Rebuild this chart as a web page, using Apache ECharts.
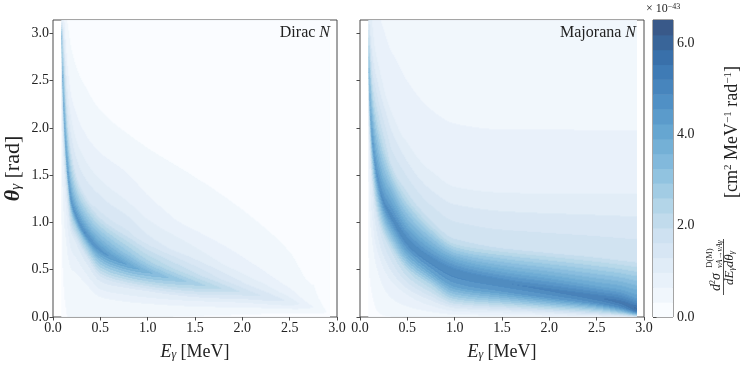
<!DOCTYPE html>
<html>
<head>
<meta charset="utf-8">
<title>Dirac / Majorana photon spectrum</title>
<script src="https://cdn.jsdelivr.net/npm/echarts@6/dist/echarts.min.js"></script>
<style>
  html, body { margin: 0; padding: 0; background: #fff; }
  #main { width: 748px; height: 366px; }
</style>
</head>
<body>
<div id="main"></div>
<script>
var eSamples = [0.088, 0.095, 0.105, 0.12, 0.14, 0.16, 0.19, 0.25, 0.34, 0.5, 0.75, 1.0, 1.5, 2.0, 2.5, 2.75, 2.92];

// Dirac: theta knots (rad) per energy, knot 4 is the ridge
var diracTheta = [
  [0, 1.0, 2.0, 2.8, 3.08, 3.11, 3.12, 3.13, 3.135, 3.1416],
  [0, 1.0, 2.0, 2.6, 2.92, 3.0, 3.08, 3.12, 3.13, 3.1416],
  [0, 1.0, 1.8, 2.25, 2.5, 2.7, 2.9, 3.05, 3.1, 3.1416],
  [0, 0.8, 1.5, 1.9, 2.12, 2.35, 2.65, 2.95, 3.1, 3.1416],
  [0, 0.7, 1.3, 1.58, 1.75, 1.97, 2.3, 2.7, 3.0, 3.1416],
  [0, 0.6, 1.1, 1.36, 1.5, 1.72, 2.05, 2.5, 3.0, 3.1416],
  [0, 0.5, 0.9, 1.12, 1.25, 1.45, 1.8, 2.3, 2.85, 3.1416],
  [0, 0.45, 0.8, 0.96, 1.06, 1.22, 1.5, 2.0, 2.62, 3.1416],
  [0, 0.35, 0.65, 0.8, 0.89, 1.03, 1.3, 1.8, 2.42, 3.1416],
  [0, 0.2, 0.42, 0.59, 0.71, 0.84, 1.08, 1.55, 2.16, 3.1416],
  [0, 0.15, 0.33, 0.47, 0.57, 0.69, 0.91, 1.32, 1.94, 3.1416],
  [0, 0.12, 0.28, 0.4, 0.48, 0.59, 0.8, 1.15, 1.76, 3.1416],
  [0, 0.08, 0.2, 0.3, 0.36, 0.46, 0.65, 0.95, 1.45, 3.1416],
  [0, 0.06, 0.15, 0.22, 0.27, 0.36, 0.5, 0.75, 1.1, 3.1416],
  [0, 0.04, 0.09, 0.13, 0.17, 0.24, 0.33, 0.45, 0.65, 3.1416],
  [0, 0.03, 0.06, 0.09, 0.11, 0.15, 0.2, 0.25, 0.3, 3.1416],
  [0, 0.01, 0.02, 0.03, 0.05, 0.1, 0.2, 0.4, 0.8, 3.1416]
];
// Dirac: cross section at those knots (x1e-43)
var diracValue = [
  [0.1, 0.25, 0.5, 1.0, 2.0, 1.8, 1.5, 1.2, 1.0, 0.9],
  [0.15, 0.35, 0.7, 1.8, 4.0, 3.0, 2.0, 1.4, 1.1, 1.0],
  [0.2, 0.45, 0.9, 2.2, 4.3, 3.0, 2.0, 1.3, 1.0, 0.9],
  [0.25, 0.5, 1.0, 2.3, 4.4, 3.0, 1.9, 1.1, 0.8, 0.7],
  [0.3, 0.55, 1.1, 2.4, 4.5, 3.1, 1.7, 0.85, 0.5, 0.4],
  [0.34, 0.6, 1.2, 2.5, 4.6, 3.2, 1.6, 0.75, 0.36, 0.3],
  [0.35, 0.62, 1.25, 2.7, 4.7, 3.3, 1.55, 0.7, 0.33, 0.25],
  [0.35, 0.62, 1.35, 2.9, 4.8, 3.4, 1.6, 0.75, 0.33, 0.22],
  [0.35, 0.62, 1.45, 3.1, 4.9, 3.5, 1.6, 0.75, 0.33, 0.2],
  [0.35, 0.58, 1.45, 3.2, 4.7, 3.5, 1.7, 0.8, 0.33, 0.18],
  [0.34, 0.56, 1.35, 3.0, 4.3, 3.2, 1.7, 0.85, 0.33, 0.15],
  [0.33, 0.52, 1.3, 2.8, 3.7, 2.7, 1.45, 0.75, 0.33, 0.12],
  [0.3, 0.46, 1.1, 2.2, 2.8, 2.0, 1.15, 0.6, 0.33, 0.1],
  [0.25, 0.4, 0.9, 1.5, 1.9, 1.35, 0.85, 0.5, 0.33, 0.08],
  [0.18, 0.3, 0.65, 1.0, 1.2, 0.85, 0.6, 0.42, 0.33, 0.05],
  [0.12, 0.22, 0.42, 0.58, 0.65, 0.5, 0.4, 0.35, 0.33, 0.03],
  [0.1, 0.15, 0.2, 0.22, 0.25, 0.2, 0.15, 0.1, 0.05, 0.02]
];

// Majorana: theta knots (rad) per energy
var majoranaTheta = [
  [0, 1.0, 2.0, 2.9, 3.1, 3.12, 3.13, 3.135, 3.14, 3.1416],
  [0, 1.0, 1.8, 2.25, 2.5, 2.8, 3.0, 3.1, 3.13, 3.1416],
  [0, 0.9, 1.7, 2.05, 2.3, 2.6, 2.85, 3.05, 3.12, 3.1416],
  [0, 0.8, 1.5, 1.8, 2.0, 2.3, 2.6, 2.9, 3.1, 3.1416],
  [0, 0.7, 1.3, 1.6, 1.8, 2.1, 2.4, 2.8, 3.05, 3.1416],
  [0, 0.6, 1.15, 1.43, 1.63, 1.93, 2.25, 2.7, 3.0, 3.1416],
  [0, 0.55, 1.0, 1.26, 1.45, 1.75, 2.1, 2.6, 3.0, 3.1416],
  [0, 0.45, 0.85, 1.05, 1.22, 1.5, 1.85, 2.4, 2.9, 3.1416],
  [0, 0.35, 0.7, 0.88, 1.05, 1.3, 1.6, 2.2, 2.8, 3.1416],
  [0, 0.25, 0.5, 0.65, 0.8, 1.0, 1.3, 1.8, 2.5, 3.1416],
  [0, 0.17, 0.35, 0.48, 0.6, 0.76, 1.0, 1.5, 2.2, 3.1416],
  [0, 0.11, 0.22, 0.34, 0.48, 0.62, 0.8, 1.38, 2.05, 3.1416],
  [0, 0.08, 0.17, 0.27, 0.37, 0.5, 0.73, 1.32, 1.99, 3.1416],
  [0, 0.06, 0.13, 0.21, 0.29, 0.42, 0.68, 1.31, 1.99, 3.1416],
  [0, 0.04, 0.1, 0.15, 0.21, 0.33, 0.63, 1.31, 1.98, 3.1416],
  [0, 0.03, 0.07, 0.11, 0.16, 0.28, 0.6, 1.31, 1.98, 3.1416],
  [0, 0.02, 0.04, 0.06, 0.09, 0.2, 0.58, 1.31, 1.98, 3.1416]
];
// Majorana: cross section at those knots (x1e-43)
var majoranaValue = [
  [0.12, 0.35, 0.7, 1.3, 1.8, 1.7, 1.6, 1.5, 1.4, 1.4],
  [0.15, 0.45, 0.9, 2.2, 3.6, 2.8, 2.0, 1.6, 1.4, 1.3],
  [0.18, 0.5, 1.1, 2.5, 4.1, 3.0, 2.0, 1.4, 1.2, 1.1],
  [0.2, 0.55, 1.3, 2.8, 4.4, 3.2, 2.0, 1.3, 1.1, 1.05],
  [0.22, 0.6, 1.4, 3.0, 4.6, 3.3, 2.0, 1.15, 0.95, 0.9],
  [0.25, 0.65, 1.5, 3.1, 4.7, 3.4, 2.1, 1.1, 0.85, 0.8],
  [0.28, 0.7, 1.6, 3.2, 4.8, 3.5, 2.1, 1.05, 0.75, 0.7],
  [0.3, 0.8, 1.8, 3.4, 5.0, 3.6, 2.1, 1.0, 0.7, 0.62],
  [0.32, 0.9, 2.0, 3.6, 5.1, 3.7, 1.9, 0.9, 0.65, 0.55],
  [0.35, 1.0, 2.3, 3.8, 5.2, 3.8, 2.0, 1.0, 0.65, 0.48],
  [0.35, 1.2, 2.6, 4.2, 5.2, 3.9, 2.0, 1.0, 0.65, 0.45],
  [0.35, 1.4, 2.9, 4.4, 5.2, 3.9, 2.0, 0.975, 0.65, 0.43],
  [0.35, 1.4, 2.9, 4.5, 5.2, 4.0, 1.95, 0.975, 0.65, 0.42],
  [0.38, 1.5, 3.0, 4.6, 5.3, 4.1, 1.95, 0.975, 0.65, 0.42],
  [0.45, 1.7, 3.3, 4.8, 5.5, 4.2, 1.95, 0.975, 0.65, 0.42],
  [0.6, 2.0, 3.6, 5.0, 5.7, 4.3, 1.95, 0.975, 0.65, 0.42],
  [1.0, 2.5, 4.0, 5.3, 5.9, 4.5, 1.95, 0.975, 0.65, 0.42]
];

var xTicks = [0, 0.5, 1.0, 1.5, 2.0, 2.5, 3.0];
var yTicks = [0, 0.5, 1.0, 1.5, 2.0, 2.5, 3.0];
var cbTicks = [0, 2, 4, 6];
var levelStep = 0.325;   // 20 filled levels up to 6.5
var nLevels = 20;

var serif = 'Liberation Serif';
var ink = '#222';
var frame = '#4a4a4a';

// matplotlib "Blues" anchors, drawn with alpha 0.8 on white
var blues = [[247,251,255],[222,235,247],[198,219,239],[158,202,225],[107,174,214],[66,146,198],[33,113,181],[8,81,156],[8,48,107]];
var colors = [];
for (var i = 0; i < nLevels; i++) {
  var t = i / (nLevels - 1) * 8, k = Math.min(7, Math.floor(t)), f = t - k;
  var c = [0, 1, 2].map(function (j) {
    return Math.round((blues[k][j] + (blues[k + 1][j] - blues[k][j]) * f) * 0.8 + 255 * 0.2);
  });
  colors.push('rgb(' + c.join(',') + ')');
}

// monotone cubic through the energy samples, so contours bend smoothly
function pchip(xs, ys, x) {
  var n = xs.length, j = 0;
  while (j < n - 2 && x > xs[j + 1]) j++;
  var h = xs[j + 1] - xs[j], t = Math.max(0, Math.min(1, (x - xs[j]) / h));
  function slope(i) {
    if (i === 0) return (ys[1] - ys[0]) / (xs[1] - xs[0]);
    if (i === n - 1) return (ys[n - 1] - ys[n - 2]) / (xs[n - 1] - xs[n - 2]);
    var d0 = (ys[i] - ys[i - 1]) / (xs[i] - xs[i - 1]), d1 = (ys[i + 1] - ys[i]) / (xs[i + 1] - xs[i]);
    if (d0 * d1 <= 0) return 0;
    var w0 = 2 * (xs[i + 1] - xs[i]) + (xs[i] - xs[i - 1]);
    var w1 = (xs[i + 1] - xs[i]) + 2 * (xs[i] - xs[i - 1]);
    return (w0 + w1) / (w0 / d0 + w1 / d1);
  }
  var m0 = slope(j) * h, m1 = slope(j + 1) * h, t2 = t * t, t3 = t2 * t;
  return (2 * t3 - 3 * t2 + 1) * ys[j] + (t3 - 2 * t2 + t) * m0 + (-2 * t3 + 3 * t2) * ys[j + 1] + (t3 - t2) * m1;
}

function profileAt(ts, vs, th) {
  if (th <= ts[0]) return vs[0];
  for (var k = 1; k < ts.length; k++) {
    if (th <= ts[k]) {
      var span = ts[k] - ts[k - 1];
      return span > 0 ? vs[k - 1] + (vs[k] - vs[k - 1]) * (th - ts[k - 1]) / span : vs[k];
    }
  }
  return vs[vs.length - 1];
}

function column(rows, k) {
  return rows.map(function (r) { return r[k]; });
}

// turn the read-off profiles into filled-contour strips [e0, e1, th0, th1, level]
function buildCells(thetaRows, valueRows) {
  var cells = [];
  var dE = 3 / 284, nRow = 300, dT = Math.PI / nRow;
  var eStart = eSamples[0], eEnd = eSamples[eSamples.length - 1];
  var nK = thetaRows[0].length, thCols = [], vCols = [];
  for (var k = 0; k < nK; k++) {
    thCols.push(column(thetaRows, k));
    vCols.push(column(valueRows, k));
  }
  for (var e0 = eStart; e0 < eEnd - 1e-9; e0 += dE) {
    var e1 = Math.min(e0 + dE, eEnd), em = (e0 + e1) / 2;
    var ts = [], vs = [];
    for (var k = 0; k < nK; k++) {
      ts.push(pchip(eSamples, thCols[k], em));
      vs.push(Math.max(0, pchip(eSamples, vCols[k], em)));
    }
    var runStart = 0, runLevel = -1;
    for (var r = 0; r <= nRow; r++) {
      var lvl = -2;
      if (r < nRow) {
        var v = profileAt(ts, vs, (r + 0.5) * dT);
        lvl = Math.max(0, Math.min(nLevels - 1, Math.floor(v / levelStep)));
      }
      if (lvl !== runLevel) {
        if (runLevel >= 0) cells.push([e0, e1, runStart * dT, r * dT, runLevel]);
        runStart = r;
        runLevel = lvl;
      }
    }
  }
  return cells;
}

var cbData = [];
for (var i = 0; i < nLevels; i++) cbData.push([0, 1, i * levelStep, (i + 1) * levelStep, i]);

function renderBand(params, api) {
  var a = api.coord([api.value(0), api.value(3)]);
  var b = api.coord([api.value(1), api.value(2)]);
  return {
    type: 'rect',
    shape: { x: a[0], y: a[1], width: b[0] - a[0] + 0.5, height: b[1] - a[1] + 0.5 },
    style: { fill: colors[api.value(4)] }
  };
}

function nameRich(size) {
  var sub = Math.round(size * 0.68);
  return {
    i: { fontFamily: serif, fontStyle: 'italic', fontSize: size, color: ink, lineHeight: size + 5, verticalAlign: 'bottom' },
    b: { fontFamily: serif, fontStyle: 'italic', fontWeight: 'bold', fontSize: size, color: ink, lineHeight: size + 5, verticalAlign: 'bottom' },
    s: { fontFamily: serif, fontStyle: 'italic', fontSize: sub, color: ink, lineHeight: sub + 2, verticalAlign: 'bottom' },
    n: { fontFamily: serif, fontSize: size, color: ink, lineHeight: size + 5, verticalAlign: 'bottom' }
  };
}

function xAxisFor(gi) {
  return {
    gridIndex: gi, type: 'value', min: 0, max: 3, interval: 0.5,
    name: '{i|E}{s|γ}{n| [MeV]}', nameLocation: 'middle', nameGap: 21,
    nameTextStyle: { rich: nameRich(18) },
    axisLine: { show: false },
    axisTick: { length: 3.5, lineStyle: { color: frame }, customValues: xTicks },
    axisLabel: { fontFamily: serif, fontSize: 14, color: ink, margin: 4, customValues: xTicks,
      formatter: function (v) { return v.toFixed(1); } },
    splitLine: { show: false }
  };
}

function yAxisFor(gi, labels) {
  return {
    gridIndex: gi, type: 'value', min: 0, max: Math.PI,
    name: labels ? '{b|θ}{s|γ}{n| [rad]}' : '', nameLocation: 'middle', nameGap: 29, nameRotate: 90,
    nameTextStyle: { rich: nameRich(22) },
    axisLine: { show: false },
    axisTick: { length: 3.5, lineStyle: { color: frame }, customValues: yTicks },
    axisLabel: { show: labels, fontFamily: serif, fontSize: 14, color: ink, margin: 4, customValues: yTicks,
      formatter: function (v) { return v.toFixed(1); } },
    splitLine: { show: false }
  };
}

var chart = echarts.init(document.getElementById('main'), null, { renderer: 'canvas' });

var supRich = function (size) {
  return { sup: { fontFamily: serif, fontSize: size, fill: ink, verticalAlign: 'top', lineHeight: size + 1 } };
};

var option = {
  animation: false,
  backgroundColor: '#fff',
  grid: [
    { left: 53, top: 20, width: 284, height: 297, show: true, borderColor: frame, borderWidth: 1, backgroundColor: '#fff' },
    { left: 360, top: 20, width: 284, height: 297, show: true, borderColor: frame, borderWidth: 1, backgroundColor: '#fff' },
    { left: 653, top: 20, width: 20, height: 297, show: true, borderColor: frame, borderWidth: 1 }
  ],
  xAxis: [
    xAxisFor(0),
    xAxisFor(1),
    { gridIndex: 2, type: 'value', min: 0, max: 1, show: false }
  ],
  yAxis: [
    yAxisFor(0, true),
    yAxisFor(1, false),
    {
      gridIndex: 2, type: 'value', min: 0, max: 6.5, position: 'right',
      axisLine: { show: false },
      axisTick: { length: 3.5, lineStyle: { color: frame }, customValues: cbTicks },
      axisLabel: { fontFamily: serif, fontSize: 14, color: ink, margin: 4, customValues: cbTicks,
        formatter: function (v) { return v.toFixed(1); } },
      splitLine: { show: false }
    }
  ],
  series: [
    { type: 'custom', name: 'Dirac', xAxisIndex: 0, yAxisIndex: 0, clip: true, silent: true, progressive: 0,
      encode: { x: [0, 1], y: [2, 3] }, renderItem: renderBand, data: buildCells(diracTheta, diracValue) },
    { type: 'custom', name: 'Majorana', xAxisIndex: 1, yAxisIndex: 1, clip: true, silent: true, progressive: 0,
      encode: { x: [0, 1], y: [2, 3] }, renderItem: renderBand, data: buildCells(majoranaTheta, majoranaValue) },
    { type: 'custom', name: 'colorbar', xAxisIndex: 2, yAxisIndex: 2, clip: true, silent: true,
      encode: { x: [0, 1], y: [2, 3] }, renderItem: renderBand, data: cbData }
  ],
  graphic: [
    { type: 'text', right: 748 - 330, top: 25, z: 10,
      style: { text: 'Dirac {i|N}', fontFamily: serif, fontSize: 16, fill: ink,
        rich: { i: { fontFamily: serif, fontStyle: 'italic', fontSize: 16, fill: ink } } } },
    { type: 'text', right: 748 - 636, top: 25, z: 10,
      style: { text: 'Majorana {i|N}', fontFamily: serif, fontSize: 16, fill: ink,
        rich: { i: { fontFamily: serif, fontStyle: 'italic', fontSize: 16, fill: ink } } } },
    { type: 'text', left: 646, top: 3,
      style: { text: '× 10{sup|−43}', fontFamily: serif, fontSize: 12, fill: ink, rich: supRich(8) } },
    // colour bar label, rotated to read bottom-up
    { type: 'text', x: 732, y: 132, rotation: Math.PI / 2,
      style: { text: '[cm{sup|2} MeV{sup|−1} rad{sup|−1}]', fontFamily: serif, fontSize: 18, fill: ink,
        align: 'center', verticalAlign: 'middle', rich: supRich(11) } },
    { type: 'text', x: 716, y: 282, rotation: Math.PI / 2,
      style: { text: 'd{sup|2}σ', fontFamily: serif, fontStyle: 'italic', fontSize: 14, fill: ink,
        align: 'center', verticalAlign: 'middle', rich: supRich(8) } },
    { type: 'text', x: 710, y: 258, rotation: Math.PI / 2,
      style: { text: 'D(M)', fontFamily: serif, fontSize: 8.5, fill: ink, align: 'center', verticalAlign: 'middle' } },
    { type: 'text', x: 720, y: 254, rotation: Math.PI / 2,
      style: { text: 'νA→νAγ', fontFamily: serif, fontStyle: 'italic', fontSize: 8, fill: ink, align: 'center', verticalAlign: 'middle' } },
    { type: 'line', shape: { x1: 723.5, y1: 295, x2: 723.5, y2: 239 }, style: { stroke: ink, lineWidth: 0.8 } },
    { type: 'text', x: 729.5, y: 268, rotation: Math.PI / 2,
      style: { text: 'dE{s|γ}dθ{s|γ}', fontFamily: serif, fontStyle: 'italic', fontSize: 13, fill: ink,
        align: 'center', verticalAlign: 'middle',
        rich: { s: { fontFamily: serif, fontStyle: 'italic', fontSize: 8.5, fill: ink, verticalAlign: 'bottom', lineHeight: 9 } } } }
  ]
};

chart.setOption(option);
</script>
</body>
</html>
